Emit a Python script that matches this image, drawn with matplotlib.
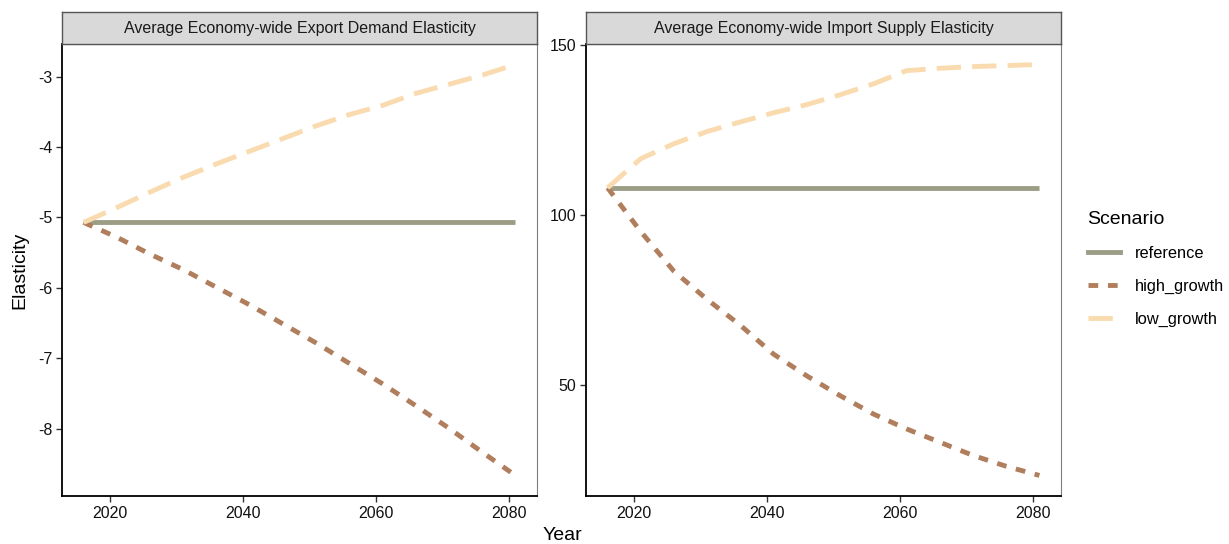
import matplotlib
matplotlib.use("Agg")
import matplotlib.pyplot as plt
from matplotlib.lines import Line2D

plt.rcParams['font.family'] = ['Liberation Sans', 'DejaVu Sans']

years = [2016, 2021, 2026, 2031, 2036, 2041, 2046, 2051, 2056, 2061, 2066, 2071, 2076, 2081]

# export demand elasticity
exp_reference = [-5.07] * 14
exp_high = [-5.07, -5.28, -5.52, -5.74, -5.99, -6.24, -6.51, -6.78, -7.07, -7.36, -7.67, -7.99, -8.33, -8.66]
exp_low = [-5.07, -4.86, -4.64, -4.43, -4.24, -4.06, -3.88, -3.70, -3.54, -3.41, -3.24, -3.11, -2.98, -2.83]

# import supply elasticity
imp_reference = [108.0] * 14
imp_high = [108.0, 95.1, 83.4, 75.1, 67.5, 59.0, 52.6, 46.8, 41.4, 37.0, 33.1, 29.2, 26.0, 23.3]
imp_low = [108.0, 116.6, 121.0, 124.6, 127.4, 130.1, 132.5, 135.4, 138.6, 142.5, 143.2, 143.7, 144.0, 144.3]

titles = ["Average Economy-wide Export Demand Elasticity",
          "Average Economy-wide Import Supply Elasticity"]
scenarios = ["reference", "high_growth", "low_growth"]
colors = {"reference": "#9b9e85", "high_growth": "#b07e5c", "low_growth": "#f9dbaf"}
dashes = {"reference": None, "high_growth": (2.0, 2.0), "low_growth": (5.0, 2.3)}
lw = 3.5

W, H = 1229, 544
fig = plt.figure(figsize=(W / 100, H / 100), dpi=100)


def box(x0, y0, x1, y1):
    return [x0 / W, 1 - y1 / H, (x1 - x0) / W, (y1 - y0) / H]


panels = [
    (box(62, 44, 537, 496), [exp_reference, exp_high, exp_low], [-8, -7, -6, -5, -4, -3]),
    (box(586, 44, 1061, 496), [imp_reference, imp_high, imp_low], [50, 100, 150]),
]

for i, (rect, series, yt) in enumerate(panels):
    ax = fig.add_axes(rect)
    for name, vals in zip(scenarios, series):
        line, = ax.plot(years, vals, color=colors[name], lw=lw, solid_capstyle="butt",
                        dash_capstyle="butt", zorder=3 if name == "reference" else 4)
        if dashes[name]:
            line.set_dashes(dashes[name])
    allv = [v for s in series for v in s]
    lo, hi = min(allv), max(allv)
    pad = (hi - lo) * 0.05
    ax.set_ylim(lo - pad, hi + pad)
    ax.set_xlim(2016 - 65 * 0.05, 2081 + 65 * 0.05)
    ax.set_yticks(yt)
    ax.set_yticklabels([str(v) for v in yt])
    ax.set_xticks([2020, 2040, 2060, 2080])
    for s in ["left", "bottom"]:
        ax.spines[s].set_color("black")
        ax.spines[s].set_linewidth(1.3)
    for s in ["right", "top"]:
        ax.spines[s].set_color("#7f7f7f")
        ax.spines[s].set_linewidth(0.8)
    ax.tick_params(axis="both", length=4, width=1.0, color="#333333", labelsize=11.5,
                   labelcolor="#111111", pad=3)

    # strip
    sx0, sx1 = (62, 537) if i == 0 else (586, 1061)
    sax = fig.add_axes(box(sx0, 12, sx1, 44))
    sax.set_xticks([])
    sax.set_yticks([])
    sax.set_facecolor("#d9d9d9")
    for s in sax.spines.values():
        s.set_color("#555555")
        s.set_linewidth(1.0)
    sax.text(0.5, 0.5, titles[i], ha="center", va="center", fontsize=11.5, color="#1a1a1a",
             transform=sax.transAxes)

fig.text(20 / W, 1 - 270 / H, "Elasticity", rotation=90, ha="center", va="center",
         fontsize=14, color="black")
fig.text(562 / W, 1 - 535 / H, "Year", ha="center", va="center", fontsize=14, color="black")

# legend
handles = []
for name in scenarios:
    h = Line2D([0], [0], color=colors[name], lw=lw)
    if dashes[name]:
        h.set_dashes(dashes[name])
    handles.append(h)
leg = fig.legend(handles, scenarios, title="Scenario", loc="upper left",
                 bbox_to_anchor=(1081 / W, 1 - 204 / H), frameon=False,
                 fontsize=11.8, title_fontsize=14, handlelength=2.0,
                 labelspacing=1.1, handletextpad=0.9, borderaxespad=0)
leg._legend_box.align = "left"

fig.savefig("out.png", dpi=100, facecolor="white")
